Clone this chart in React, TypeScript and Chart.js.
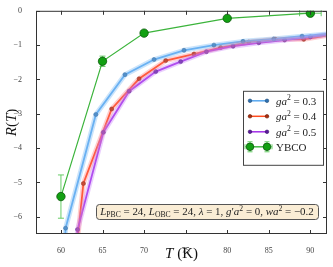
import React, { useEffect, useRef } from 'react';
import { Chart, registerables } from 'chart.js';
Chart.register(...registerables);

const xTicks = [60, 65, 70, 75, 80, 85, 90];
const yTicks = [0, -1, -2, -3, -4, -5, -6];

const tBlue = [60.4, 60.56, 64.2, 67.7, 71.2, 74.8, 78.4, 81.9, 85.6, 89.0, 93.0];
const rBlue = [-7.2, -6.33, -3.02, -1.86, -1.42, -1.15, -1.0, -0.89, -0.82, -0.74, -0.65];

const tRed = [61.9, 62.7, 66.1, 69.4, 72.6, 76.0, 79.2, 82.6, 85.8, 89.2, 93.0];
const rRed = [-6.9, -5.03, -2.86, -1.98, -1.45, -1.26, -1.07, -0.91, -0.83, -0.83, -0.68];

const tPurple = [61.8, 62.0, 65.1, 68.2, 71.4, 74.4, 77.5, 80.7, 83.8, 86.9, 90.0, 93.0];
const rPurple = [-7.0, -6.37, -3.54, -2.34, -1.77, -1.48, -1.19, -1.03, -0.93, -0.85, -0.76, -0.66];

const tYbco = [60, 65, 70, 80, 90];
const rYbco = [-5.41, -1.47, -0.65, -0.22, -0.07];
const rErrYbco = [0.63, 0.15, 0.06, 0.04, 0.03];
const tErrYbco = [0.2, 0.3, 0.2, 0.2, 1.3];

const seriesLabels = ['0.3', '0.4', '0.5'];
const FONT = '"Liberation Serif", "DejaVu Serif", serif';

const pts = (t: number[], r: number[]) => t.map((x, i) => ({ x, y: r[i] }));

const COL = {
  blue: { line: '#58a8f0', band: 'rgba(130,190,245,0.42)', pt: '#2e6fae', ptb: '#1d4a78' },
  red: { line: '#ff4b1e', band: 'rgba(255,120,120,0.35)', pt: '#a83010', ptb: '#6a1a05' },
  purple: { line: '#a22ee8', band: 'rgba(200,130,250,0.38)', pt: '#5a1a9a', ptb: '#360a66' },
  green: { line: '#3cb43c', err: '#66cc66', pt: '#12a012', ptb: '#0a5a0a' },
};

type Seg = { t: string; it?: boolean; sh?: 'sub' | 'sup' };

function richWidth(ctx: CanvasRenderingContext2D, segs: Seg[], size: number) {
  let w = 0;
  for (const s of segs) {
    ctx.font = `${s.it ? 'italic ' : ''}${s.sh ? size * 0.7 : size}px ${FONT}`;
    w += ctx.measureText(s.t).width;
  }
  return w;
}

function drawRich(ctx: CanvasRenderingContext2D, segs: Seg[], x: number, y: number, size: number, align: 'left' | 'center') {
  const w = richWidth(ctx, segs, size);
  let cx = align === 'center' ? x - w / 2 : x;
  ctx.textAlign = 'left';
  ctx.textBaseline = 'alphabetic';
  for (const s of segs) {
    ctx.font = `${s.it ? 'italic ' : ''}${s.sh ? size * 0.7 : size}px ${FONT}`;
    const dy = s.sh === 'sub' ? size * 0.22 : s.sh === 'sup' ? -size * 0.4 : 0;
    ctx.fillText(s.t, cx, y + dy);
    cx += ctx.measureText(s.t).width;
  }
  return w;
}

const errorBarPlugin = {
  id: 'errbars',
  beforeDatasetsDraw(chart: any) {
    const ctx = chart.ctx as CanvasRenderingContext2D;
    const xs = chart.scales.x, ys = chart.scales.y;
    ctx.save();
    ctx.strokeStyle = COL.green.err;
    ctx.lineWidth = 1;
    tYbco.forEach((t, i) => {
      const px = xs.getPixelForValue(t);
      const py = ys.getPixelForValue(rYbco[i]);
      const y1 = ys.getPixelForValue(rYbco[i] + rErrYbco[i]);
      const y2 = ys.getPixelForValue(rYbco[i] - rErrYbco[i]);
      const x1 = xs.getPixelForValue(t - tErrYbco[i]);
      const x2 = xs.getPixelForValue(t + tErrYbco[i]);
      ctx.beginPath();
      ctx.moveTo(px, y1); ctx.lineTo(px, y2);
      ctx.moveTo(px - 3, y1); ctx.lineTo(px + 3, y1);
      ctx.moveTo(px - 3, y2); ctx.lineTo(px + 3, y2);
      ctx.moveTo(x1, py); ctx.lineTo(x2, py);
      ctx.moveTo(x1, py - 3); ctx.lineTo(x1, py + 3);
      ctx.moveTo(x2, py - 3); ctx.lineTo(x2, py + 3);
      ctx.stroke();
    });
    ctx.restore();
  },
};

const decorPlugin = {
  id: 'decor',
  afterDraw(chart: any) {
    const ctx = chart.ctx as CanvasRenderingContext2D;
    const { left, right, top, bottom } = chart.chartArea;
    const xs = chart.scales.x, ys = chart.scales.y;
    ctx.save();
    // frame
    ctx.strokeStyle = '#333';
    ctx.lineWidth = 1;
    ctx.strokeRect(left + 0.5, top + 0.5, right - left - 1, bottom - top - 1);
    // inward ticks
    ctx.beginPath();
    xTicks.forEach((v) => {
      const p = Math.round(xs.getPixelForValue(v)) + 0.5;
      ctx.moveTo(p, bottom); ctx.lineTo(p, bottom - 4);
      ctx.moveTo(p, top); ctx.lineTo(p, top + 4);
    });
    yTicks.forEach((v) => {
      const p = Math.round(ys.getPixelForValue(v)) + 0.5;
      ctx.moveTo(left, p); ctx.lineTo(left + 4, p);
      ctx.moveTo(right, p); ctx.lineTo(right - 4, p);
    });
    ctx.stroke();

    // legend
    const lx = right - 84, ly = top + 80, lw = 80, lh = 74;
    ctx.fillStyle = 'rgba(255,255,255,0.9)';
    ctx.fillRect(lx, ly, lw, lh);
    ctx.strokeStyle = '#444';
    ctx.strokeRect(lx + 0.5, ly + 0.5, lw, lh);
    const rows = [ly + 10, ly + 25.5, ly + 41, ly + 56];
    const cols = [COL.blue, COL.red, COL.purple];
    const sx1 = lx + 7, sx2 = lx + 24;
    cols.forEach((c, i) => {
      const y = rows[i];
      ctx.strokeStyle = c.line;
      ctx.lineWidth = 1.5;
      ctx.beginPath(); ctx.moveTo(sx1, y); ctx.lineTo(sx2, y); ctx.stroke();
      [sx1, sx2].forEach((x) => {
        ctx.beginPath(); ctx.arc(x, y, 1.8, 0, Math.PI * 2);
        ctx.fillStyle = c.pt; ctx.fill();
        ctx.strokeStyle = c.ptb; ctx.lineWidth = 0.6; ctx.stroke();
      });
      ctx.fillStyle = '#222';
      drawRich(ctx, [{ t: 'ga', it: true }, { t: '2', sh: 'sup' }, { t: ' = ' + seriesLabels[i] }], lx + 33, y + 4, 11, 'left');
    });
    {
      const y = rows[3];
      ctx.strokeStyle = COL.green.err; ctx.lineWidth = 1;
      ctx.beginPath();
      ctx.moveTo(sx1 - 5, y); ctx.lineTo(sx2 + 5, y);
      [sx1, sx2].forEach((x) => {
        ctx.moveTo(x, y - 5); ctx.lineTo(x, y + 5);
        ctx.moveTo(x - 2.5, y - 5); ctx.lineTo(x + 2.5, y - 5);
        ctx.moveTo(x - 2.5, y + 5); ctx.lineTo(x + 2.5, y + 5);
      });
      ctx.moveTo(sx1 - 5, y - 2.5); ctx.lineTo(sx1 - 5, y + 2.5);
      ctx.moveTo(sx2 + 5, y - 2.5); ctx.lineTo(sx2 + 5, y + 2.5);
      ctx.stroke();
      ctx.strokeStyle = COL.green.line; ctx.lineWidth = 1.2;
      ctx.beginPath(); ctx.moveTo(sx1, y); ctx.lineTo(sx2, y); ctx.stroke();
      [sx1, sx2].forEach((x) => {
        ctx.beginPath(); ctx.arc(x, y, 3.8, 0, Math.PI * 2);
        ctx.fillStyle = COL.green.pt; ctx.fill();
        ctx.strokeStyle = COL.green.ptb; ctx.lineWidth = 0.8; ctx.stroke();
      });
      ctx.fillStyle = '#222';
      ctx.font = `11px ${FONT}`;
      ctx.textAlign = 'left'; ctx.textBaseline = 'alphabetic';
      ctx.fillText('YBCO', lx + 33, y + 4);
    }

    // annotation box
    const ann: Seg[] = [
      { t: 'L', it: true }, { t: 'PBC', sh: 'sub' }, { t: ' = 24, ' },
      { t: 'L', it: true }, { t: 'OBC', sh: 'sub' }, { t: ' = 24, ' },
      { t: 'λ', it: true }, { t: ' = 1, ' },
      { t: 'g', it: true }, { t: '′' }, { t: 'a', it: true }, { t: '2', sh: 'sup' }, { t: ' = 0, ' },
      { t: 'wa', it: true }, { t: '2', sh: 'sup' }, { t: ' = −0.2' },
    ];
    let size = 10;
    const w0 = richWidth(ctx, ann, size);
    size = size * 214 / w0;
    const bx = left + 60, bw = 222, by = bottom - 30, bh = 15;
    ctx.beginPath();
    (ctx as any).roundRect(bx + 0.5, by + 0.5, bw, bh, 3);
    ctx.fillStyle = 'rgba(245,222,179,0.55)';
    ctx.fill();
    ctx.strokeStyle = '#555'; ctx.lineWidth = 1; ctx.stroke();
    ctx.fillStyle = '#222';
    drawRich(ctx, ann, bx + bw / 2, by + 11, size, 'center');

    // axis titles
    ctx.fillStyle = '#111';
    drawRich(ctx, [{ t: 'T', it: true }, { t: ' (K)' }], (left + right) / 2, 258, 15, 'center');
    ctx.save();
    ctx.translate(16, (top + bottom) / 2);
    ctx.rotate(-Math.PI / 2);
    drawRich(ctx, [{ t: 'R', it: true }, { t: '(' }, { t: 'T', it: true }, { t: ')' }], 0, 0, 15, 'center');
    ctx.restore();
    ctx.restore();
  },
};

export default function App() {
  const ref = useRef<HTMLCanvasElement>(null);
  useEffect(() => {
    document.body.style.margin = '0';
    const band = (t: number[], r: number[], c: string) => ({
      data: pts(t, r), showLine: true, borderColor: c, borderWidth: 5, pointRadius: 0,
      borderJoinStyle: 'round', borderCapStyle: 'round', backgroundColor: 'transparent',
    });
    const main = (t: number[], r: number[], c: any) => ({
      data: pts(t, r), showLine: true, borderColor: c.line, borderWidth: 1.8,
      pointRadius: 2, pointBackgroundColor: c.pt, pointBorderColor: c.ptb, pointBorderWidth: 0.6,
      backgroundColor: c.pt,
    });
    const chart = new Chart(ref.current!, {
      type: 'scatter',
      data: {
        datasets: [
          band(tBlue, rBlue, COL.blue.band) as any,
          band(tPurple, rPurple, COL.purple.band) as any,
          band(tRed, rRed, COL.red.band) as any,
          main(tBlue, rBlue, COL.blue),
          main(tPurple, rPurple, COL.purple),
          main(tRed, rRed, COL.red),
          {
            data: pts(tYbco, rYbco), showLine: true, borderColor: COL.green.line, borderWidth: 1.2,
            pointRadius: 4.2, pointBackgroundColor: COL.green.pt, pointBorderColor: COL.green.ptb,
            pointBorderWidth: 0.8,
          } as any,
        ],
      },
      options: {
        animation: false,
        responsive: false,
        layout: { padding: { left: 0, top: 8, right: 6, bottom: 0 } },
        plugins: { legend: { display: false }, tooltip: { enabled: false } },
        scales: {
          x: {
            type: 'linear', min: 57, max: 92,
            grid: { display: false }, border: { display: false },
            afterBuildTicks: (s: any) => { s.ticks = xTicks.map((v) => ({ value: v })); },
            afterFit: (s: any) => { s.height = 33; },
            ticks: { font: { family: FONT, size: 8 }, color: '#444', padding: 4, maxRotation: 0, callback: (v: any) => String(v) },
          },
          y: {
            type: 'linear', min: -6.5, max: 0,
            grid: { display: false }, border: { display: false },
            afterBuildTicks: (s: any) => { s.ticks = yTicks.map((v) => ({ value: v })); },
            afterFit: (s: any) => { s.width = 36; },
            ticks: { font: { family: FONT, size: 8 }, color: '#444', padding: 6, callback: (v: any) => (v < 0 ? '−' + Math.abs(v) : String(v)) },
          },
        },
      },
      plugins: [errorBarPlugin, decorPlugin],
    });
    return () => chart.destroy();
  }, []);
  return (
    <div style={{ width: 333, height: 267 }}>
      <canvas ref={ref} width={333} height={267} style={{ display: 'block' }} />
    </div>
  );
}
